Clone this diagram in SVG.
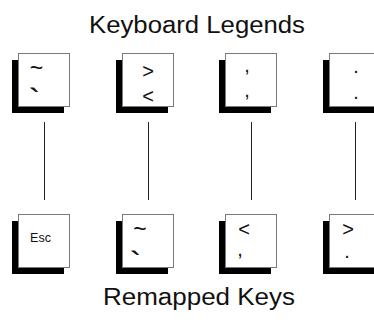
<svg xmlns="http://www.w3.org/2000/svg" width="374" height="320" viewBox="0 0 374 320">
<style>
.bg{fill:#fff}
.shadow{fill:#000}
.key{fill:#fff;stroke:#7a7a7a;stroke-width:1}
.title{font-family:"Liberation Sans",Arial,sans-serif;font-size:23px;fill:#111;text-anchor:middle}
.leg{font-family:"Liberation Sans",Arial,sans-serif;font-size:20px;fill:#111;text-anchor:middle}
.tilde{font-family:"Liberation Sans",Arial,sans-serif;font-size:23px;fill:#111;text-anchor:middle}
.grave{font-family:"Liberation Mono","Courier New",monospace;font-size:37px;fill:#111;text-anchor:middle}
.esc{font-family:"Liberation Sans",Arial,sans-serif;font-size:12.5px;fill:#111;text-anchor:middle}
.conn line{stroke:#222;stroke-width:1}
</style>
<rect class="bg" x="0" y="0" width="374" height="320"/>
<text id="title-top" class="title" x="197" y="33" textLength="216" lengthAdjust="spacingAndGlyphs">Keyboard Legends</text>
<text id="title-bottom" class="title" x="199" y="305" textLength="192" lengthAdjust="spacingAndGlyphs">Remapped Keys</text>

<g id="connectors" class="conn">
<line x1="44.5" y1="122" x2="44.5" y2="200"/>
<line x1="148.5" y1="122" x2="148.5" y2="200"/>
<line x1="251.5" y1="122" x2="251.5" y2="200"/>
<line x1="355.5" y1="122" x2="355.5" y2="200"/>
</g>

<g id="top-key-1">
<rect class="shadow" x="12" y="60" width="52" height="53"/>
<rect class="key" x="18.5" y="53.5" width="51" height="53"/>
<text class="tilde" x="36.5" y="76">~</text>
<text class="grave" x="34" y="114">`</text>
</g>
<g id="top-key-2">
<rect class="shadow" x="116" y="60" width="52" height="53"/>
<rect class="key" x="122.5" y="53.5" width="51" height="53"/>
<text class="leg" x="148" y="78">&gt;</text>
<text class="leg" x="148" y="103">&lt;</text>
</g>
<g id="top-key-3">
<rect class="shadow" x="219" y="60" width="52" height="53"/>
<rect class="key" x="225.5" y="53.5" width="51" height="53"/>
<text class="leg" x="247" y="72">,</text>
<text class="leg" x="247" y="97">,</text>
</g>
<g id="top-key-4">
<rect class="shadow" x="323" y="60" width="52" height="53"/>
<rect class="key" x="329.5" y="53.5" width="51" height="53"/>
<text class="leg" x="356" y="73">.</text>
<text class="leg" x="356" y="99">.</text>
</g>

<g id="bottom-key-1">
<rect class="shadow" x="12" y="221" width="52" height="53"/>
<rect class="key" x="18.5" y="214.5" width="51" height="53"/>
<text class="esc" x="40.5" y="242">Esc</text>
</g>
<g id="bottom-key-2">
<rect class="shadow" x="116" y="221" width="52" height="53"/>
<rect class="key" x="122.5" y="214.5" width="51" height="53"/>
<text class="tilde" x="140" y="237">~</text>
<text class="grave" x="135" y="277">`</text>
</g>
<g id="bottom-key-3">
<rect class="shadow" x="219" y="221" width="52" height="53"/>
<rect class="key" x="225.5" y="214.5" width="51" height="53"/>
<text class="leg" x="244" y="236">&lt;</text>
<text class="leg" x="240" y="256">,</text>
</g>
<g id="bottom-key-4">
<rect class="shadow" x="323" y="221" width="52" height="53"/>
<rect class="key" x="329.5" y="214.5" width="51" height="53"/>
<text class="leg" x="348" y="236">&gt;</text>
<text class="leg" x="347" y="258">.</text>
</g>
</svg>
